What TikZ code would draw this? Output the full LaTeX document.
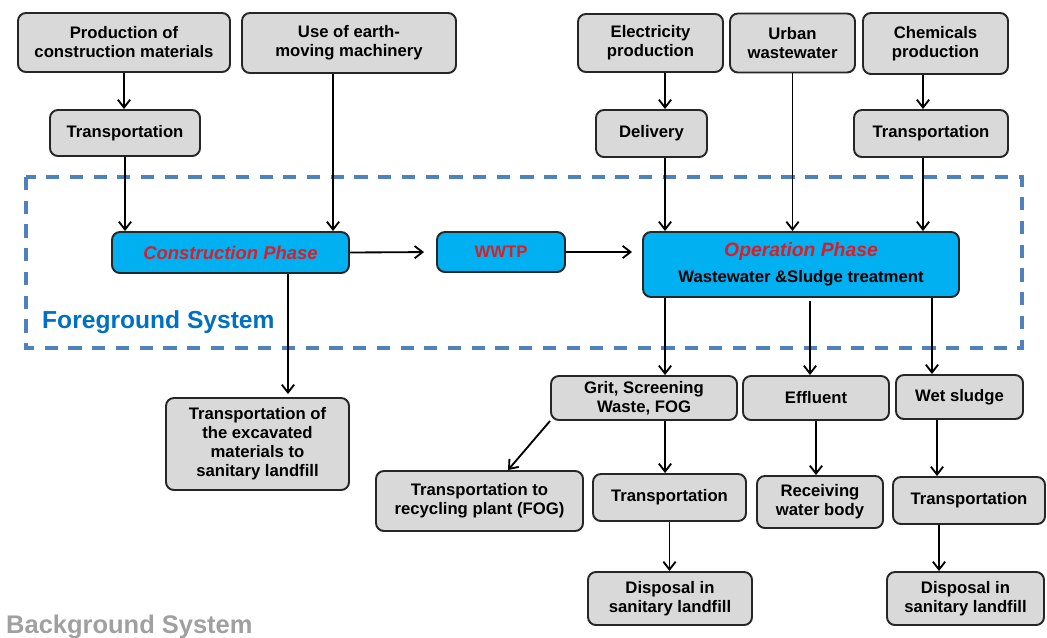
\documentclass[tikz,border=0pt]{standalone}
\usepackage{fontspec}
\setmainfont{Liberation Sans}
\usetikzlibrary{arrows.meta}
\definecolor{boxgray}{RGB}{217,217,217}
\definecolor{phblue}{RGB}{0,176,240}
\definecolor{phred}{RGB}{218,30,40}
\definecolor{fgblue}{RGB}{0,112,192}
\definecolor{frameblue}{RGB}{79,129,189}
\definecolor{bggray}{RGB}{160,160,160}
\tikzset{
  box/.style={
    draw=black!85,
    line width=1.1pt,
    fill=boxgray,
    rounded corners=4.5pt,
    align=center,
    inner sep=0pt,
    font=\bfseries\fontsize{9.5}{10.8}\selectfont
  },
  phase/.style={box, fill=phblue},
  sz/.style 2 args={minimum width=#1*0.02cm, minimum height=#2*0.02cm},
  arr/.style={-{Straight Barb[length=4.5pt,width=7pt]}, line width=1.05pt},
  sysframe/.style={draw=frameblue, line width=1.9pt, dash pattern=on 7.5pt off 6pt}
}
\begin{document}
\begin{tikzpicture}[x=0.02cm,y=-0.02cm]
        \useasboundingbox (0,0) rectangle (1047,637);
        % foreground frame
        \draw[sysframe] (26,177) rectangle (1022,348);
        \node[anchor=west, text=fgblue, font=\bfseries\fontsize{14}{16}\selectfont] (fgsys) at (36,322) {Foreground System};
        \node[anchor=base west, text=bggray, font=\bfseries\fontsize{14.5}{16}\selectfont] (bgsys) at (0,633) {Background System};
        %
        \node[box, sz={212}{59}] (prodmat) at (124,42.5) {Production of\\construction materials};
        \node[box, sz={214}{60}] (earth) at (349,43) {Use of earth-\\moving machinery};
        \node[box, sz={150}{46}] (trans1) at (125,133) {Transportation};
        \node[box, sz={145}{58}] (elec) at (650.5,43) {Electricity\\production};
        \node[box, sz={125}{59}] (urban) at (792.5,43) {Urban\\wastewater};
        \node[box, sz={145}{61}] (chem) at (935.5,43.5) {Chemicals\\production};
        \node[box, sz={111}{47}] (delivery) at (651.5,133.5) {Delivery};
        \node[box, sz={154}{47}] (trans2) at (931,133.5) {Transportation};
        %
        \node[phase, sz={237}{41}, font=\bfseries\itshape\fontsize{10.5}{12}\selectfont, text=phred] (cons) at (230.5,252.5) {Construction Phase};
        \node[phase, sz={128}{40}, text=phred] (wwtp) at (501,252) {WWTP};
        \node[phase, sz={316}{65}] (oper) at (801,264.5) {{\itshape\fontsize{11}{12}\selectfont\textcolor{phred}{Operation Phase}}\\[4pt]Wastewater \&Sludge treatment};
        %
        \node[box, sz={183}{92}] (excav) at (257.5,444) {Transportation of\\the excavated\\materials to\\sanitary landfill};
        \node[box, sz={186}{44}] (grit) at (644,398) {Grit, Screening\\Waste, FOG};
        \node[box, sz={146}{44}] (effl) at (816,398) {Effluent};
        \node[box, sz={127}{44}] (wet) at (959.5,397) {Wet sludge};
        \node[box, sz={207}{60}] (recyc) at (479.5,501) {Transportation to\\recycling plant (FOG)};
        \node[box, sz={153}{47}] (transG) at (669.5,497.5) {Transportation};
        \node[box, sz={126}{52}] (recv) at (820,502) {Receiving\\water body};
        \node[box, sz={152}{47}] (transW) at (969,500.5) {Transportation};
        \node[box, sz={164}{53}] (disp1) at (670,598.5) {Disposal in\\sanitary landfill};
        \node[box, sz={157}{53}] (disp2) at (965.5,598.5) {Disposal in\\sanitary landfill};
        %
        \coordinate (ex) at ([xshift=0.29cm]elec.south);
        \coordinate (cx) at ([xshift=-0.25cm]chem.south);
        \coordinate (o1) at ([xshift=-2.72cm]oper.south);
        \coordinate (o2) at ([xshift=0.18cm,yshift=-0.06cm]oper.south);
        \coordinate (o3) at ([xshift=2.62cm]oper.south);
        %
        \draw[arr] (prodmat.south) -- (prodmat.south |- trans1.north);
        \draw[arr] (trans1.south) -- (trans1.south |- cons.north);
        \draw[arr] ([xshift=-0.32cm]earth.south) -- ([xshift=-0.32cm]earth.south |- cons.north);
        \draw[arr, shorten >=0.24cm] (cons.east) -- (wwtp.west);
        \draw[arr, shorten >=0.2cm] (wwtp.east) -- (wwtp.east -| oper.west);
        \draw[arr] (ex) -- (ex |- delivery.north);
        \draw[arr] (ex |- delivery.south) -- (ex |- oper.north);
        \draw[arr] (urban.south) -- (urban.south |- oper.north);
        \draw[arr] (cx) -- (cx |- trans2.north);
        \draw[arr] (cx |- trans2.south) -- (cx |- oper.north);
        \draw[arr, shorten >=0.06cm] ([xshift=1.15cm]cons.south) -- ([xshift=1.15cm]cons.south |- excav.north);
        %
        \draw[arr] (o1) -- (o1 |- grit.north);
        \draw[arr] (o2) -- (o2 |- effl.north);
        \draw[arr] (o3) -- (o3 |- wet.north);
        \draw[arr] (grit.south west) -- ([xshift=0.57cm]recyc.north);
        \draw[arr] (o1 |- grit.south) -- (o1 |- transG.north);
        \draw[arr] (transG.south) -- (transG.south |- disp1.north);
        \draw[arr] (effl.south) -- (effl.south |- recv.north);
        \draw[arr] ([xshift=-0.45cm]wet.south) -- ([xshift=-0.45cm]wet.south |- transW.north);
        \draw[arr] ([xshift=-0.6cm]transW.south) -- ([xshift=-0.6cm]transW.south |- disp2.north);
\end{tikzpicture}
\end{document}
